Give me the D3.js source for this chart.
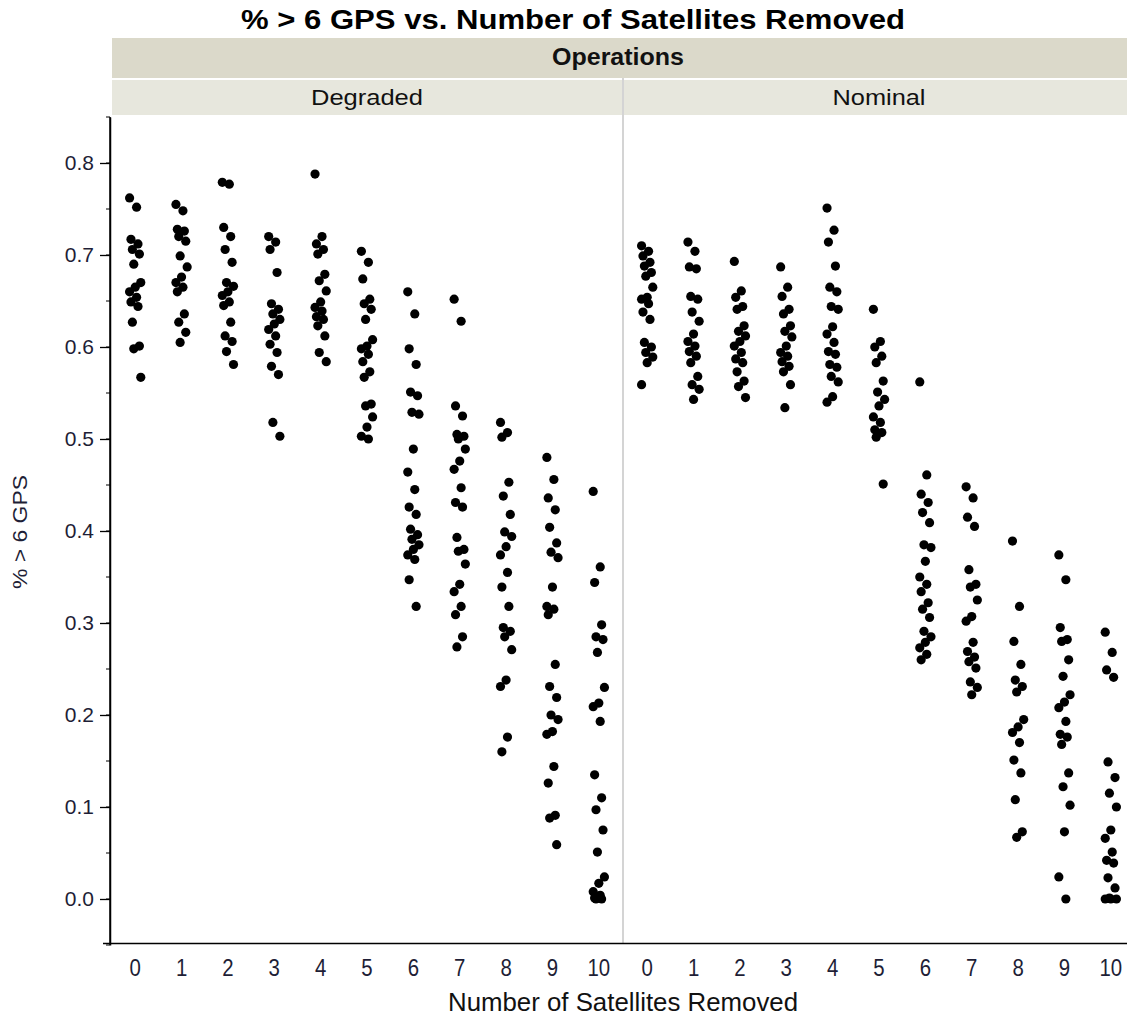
<!DOCTYPE html>
<html>
<head>
<meta charset="utf-8">
<script src="https://cdn.jsdelivr.net/npm/d3@7"></script>
<style>
  body { margin: 0; background: #fff; }
  text { font-family: "Liberation Sans", Arial, sans-serif; }
</style>
</head>
<body>
<div id="chart"></div>
<script>
// categories and ticks
const panels = ["Degraded", "Nominal"];
const satellitesRemoved = [0, 1, 2, 3, 4, 5, 6, 7, 8, 9, 10];
const yTicks = [0, 0.1, 0.2, 0.3, 0.4, 0.5, 0.6, 0.7, 0.8];

// % > 6 GPS per number of satellites removed, Degraded operations
const degraded = [
  [0.762, 0.752, 0.717, 0.712, 0.706, 0.701, 0.690, 0.670, 0.665, 0.660, 0.654, 0.649, 0.644, 0.627, 0.601, 0.598, 0.567],
  [0.755, 0.748, 0.728, 0.726, 0.720, 0.715, 0.699, 0.687, 0.676, 0.670, 0.665, 0.660, 0.636, 0.627, 0.616, 0.605],
  [0.779, 0.777, 0.730, 0.720, 0.706, 0.692, 0.670, 0.666, 0.660, 0.656, 0.649, 0.645, 0.627, 0.612, 0.606, 0.595, 0.581],
  [0.720, 0.714, 0.706, 0.681, 0.647, 0.641, 0.636, 0.630, 0.625, 0.619, 0.612, 0.603, 0.594, 0.579, 0.570, 0.518, 0.503],
  [0.788, 0.720, 0.712, 0.706, 0.701, 0.679, 0.672, 0.661, 0.649, 0.643, 0.639, 0.633, 0.630, 0.623, 0.612, 0.594, 0.584],
  [0.704, 0.692, 0.674, 0.652, 0.647, 0.641, 0.630, 0.608, 0.601, 0.598, 0.592, 0.584, 0.573, 0.567, 0.538, 0.536, 0.524, 0.513, 0.503, 0.500],
  [0.660, 0.636, 0.598, 0.581, 0.551, 0.547, 0.529, 0.527, 0.489, 0.464, 0.445, 0.426, 0.418, 0.402, 0.396, 0.391, 0.385, 0.380, 0.374, 0.369, 0.347, 0.318],
  [0.652, 0.628, 0.536, 0.525, 0.505, 0.503, 0.500, 0.489, 0.476, 0.467, 0.447, 0.431, 0.426, 0.393, 0.380, 0.378, 0.364, 0.342, 0.334, 0.318, 0.309, 0.285, 0.274],
  [0.518, 0.507, 0.502, 0.453, 0.438, 0.418, 0.399, 0.394, 0.383, 0.374, 0.355, 0.339, 0.318, 0.295, 0.291, 0.285, 0.271, 0.238, 0.231, 0.176, 0.160],
  [0.480, 0.456, 0.436, 0.423, 0.404, 0.387, 0.377, 0.371, 0.339, 0.318, 0.315, 0.309, 0.255, 0.231, 0.219, 0.200, 0.195, 0.182, 0.179, 0.144, 0.126, 0.091, 0.088, 0.059],
  [0.443, 0.361, 0.344, 0.298, 0.285, 0.282, 0.268, 0.230, 0.213, 0.209, 0.193, 0.135, 0.110, 0.097, 0.075, 0.051, 0.024, 0.017, 0.008, 0.004, 0.001, 0.000, 0.000]
];

// % > 6 GPS per number of satellites removed, Nominal operations
const nominal = [
  [0.710, 0.704, 0.699, 0.692, 0.688, 0.681, 0.677, 0.665, 0.654, 0.652, 0.647, 0.638, 0.630, 0.605, 0.600, 0.594, 0.589, 0.583, 0.559],
  [0.714, 0.704, 0.687, 0.685, 0.655, 0.652, 0.638, 0.628, 0.614, 0.606, 0.601, 0.595, 0.590, 0.583, 0.568, 0.559, 0.554, 0.543],
  [0.693, 0.661, 0.654, 0.644, 0.641, 0.623, 0.617, 0.612, 0.606, 0.601, 0.594, 0.587, 0.583, 0.573, 0.563, 0.557, 0.545],
  [0.687, 0.665, 0.655, 0.641, 0.636, 0.623, 0.617, 0.611, 0.601, 0.594, 0.590, 0.584, 0.579, 0.573, 0.559, 0.534],
  [0.751, 0.727, 0.714, 0.688, 0.665, 0.660, 0.644, 0.641, 0.622, 0.614, 0.605, 0.595, 0.592, 0.581, 0.578, 0.568, 0.562, 0.546, 0.540],
  [0.641, 0.606, 0.600, 0.590, 0.583, 0.563, 0.551, 0.543, 0.536, 0.524, 0.518, 0.510, 0.507, 0.502, 0.451],
  [0.562, 0.461, 0.440, 0.431, 0.420, 0.409, 0.385, 0.382, 0.367, 0.350, 0.342, 0.334, 0.322, 0.315, 0.306, 0.291, 0.285, 0.279, 0.273, 0.266, 0.260],
  [0.448, 0.436, 0.415, 0.405, 0.358, 0.342, 0.339, 0.325, 0.307, 0.302, 0.279, 0.269, 0.263, 0.258, 0.251, 0.236, 0.230, 0.222],
  [0.389, 0.318, 0.280, 0.255, 0.238, 0.231, 0.225, 0.195, 0.187, 0.181, 0.170, 0.151, 0.137, 0.108, 0.073, 0.067],
  [0.374, 0.347, 0.295, 0.282, 0.280, 0.260, 0.242, 0.222, 0.214, 0.208, 0.193, 0.179, 0.176, 0.168, 0.137, 0.122, 0.102, 0.073, 0.024, 0.000],
  [0.290, 0.268, 0.249, 0.241, 0.149, 0.132, 0.115, 0.100, 0.075, 0.066, 0.051, 0.042, 0.039, 0.023, 0.012, 0.001, 0.000, 0.000, 0.000]
];

const width = 1127;
const height = 1018;
const plotTop = 117;
const plotBottom = 945;
const plotLeft = 112;
const panelWidth = 510;
const panelGap = 2;
const labelColor = "#1e1e36";

const svg = d3.select("#chart")
  .append("svg")
  .attr("width", width)
  .attr("height", height);

const y = d3.scaleLinear()
  .domain([-0.05, 0.85])
  .range([plotBottom, plotTop]);

// title
svg.append("text")
  .attr("x", 573)
  .attr("y", 29)
  .attr("text-anchor", "middle")
  .attr("font-size", 27)
  .attr("font-weight", "bold")
  .attr("fill", "#000")
  .attr("textLength", 664)
  .attr("lengthAdjust", "spacingAndGlyphs")
  .text("% > 6 GPS vs. Number of Satellites Removed");

// "Operations" header band
svg.append("rect")
  .attr("x", plotLeft)
  .attr("y", 38)
  .attr("width", width - plotLeft)
  .attr("height", 40)
  .attr("fill", "#dbd9ca");

svg.append("text")
  .attr("x", 618)
  .attr("y", 65)
  .attr("text-anchor", "middle")
  .attr("font-size", 23)
  .attr("font-weight", "bold")
  .attr("fill", "#111")
  .attr("textLength", 132)
  .attr("lengthAdjust", "spacingAndGlyphs")
  .text("Operations");

const headerWidths = { Degraded: 112, Nominal: 93 };

// one panel per operations mode
panels.forEach((name, p) => {
  const left = plotLeft + p * (panelWidth + panelGap);

  const x = d3.scaleBand()
    .domain(satellitesRemoved)
    .range([left, left + panelWidth]);

  const g = svg.append("g").attr("class", "panel");

  g.append("rect")
    .attr("x", left)
    .attr("y", 80)
    .attr("width", panelWidth)
    .attr("height", 35)
    .attr("fill", "#e7e7dd");

  g.append("text")
    .attr("x", left + panelWidth / 2)
    .attr("y", 105)
    .attr("text-anchor", "middle")
    .attr("font-size", 22)
    .attr("fill", "#111")
    .attr("textLength", headerWidths[name])
    .attr("lengthAdjust", "spacingAndGlyphs")
    .text(name);

  const series = p === 0 ? degraded : nominal;
  const points = [];
  series.forEach((vals, c) => {
    vals.forEach((v, i) => {
      points.push({ cat: satellitesRemoved[c], value: v, i: i });
    });
  });

  // small fixed horizontal spread so stacked points stay visible
  g.append("g")
    .selectAll("circle")
    .data(points)
    .join("circle")
    .attr("cx", d => x(d.cat) + x.bandwidth() / 2 + ((d.i * 5) % 9 - 4) * 1.4)
    .attr("cy", d => y(d.value))
    .attr("r", 4.6)
    .attr("fill", "#000");

  // x tick labels
  g.append("g")
    .selectAll("text")
    .data(satellitesRemoved)
    .join("text")
    .attr("transform", d => `translate(${x(d) + x.bandwidth() / 2},976) scale(0.85,1)`)
    .attr("text-anchor", "middle")
    .attr("font-size", 24)
    .attr("fill", labelColor)
    .text(d => d);
});

// panel divider
svg.append("line")
  .attr("x1", plotLeft + panelWidth + 1)
  .attr("x2", plotLeft + panelWidth + 1)
  .attr("y1", 78)
  .attr("y2", plotBottom - 2)
  .attr("stroke", "#d4d4d4")
  .attr("stroke-width", 2);

// y axis with minor ticks
const minorTicks = y.ticks(18);
svg.append("g")
  .selectAll("line")
  .data(minorTicks)
  .join("line")
  .attr("x1", 106)
  .attr("x2", 110)
  .attr("y1", d => y(d))
  .attr("y2", d => y(d))
  .attr("stroke", "#000");

const yAxis = svg.append("g")
  .attr("transform", `translate(110,0)`)
  .call(d3.axisLeft(y).tickValues(yTicks).tickFormat(d3.format(".1f")).tickSize(10).tickSizeOuter(0));

yAxis.select(".domain").attr("stroke", "#000").attr("stroke-width", 1.5);
yAxis.selectAll(".tick line").attr("stroke", "#000").attr("stroke-width", 1.3);
yAxis.selectAll(".tick text")
  .attr("font-size", 21)
  .attr("font-family", "\"Liberation Sans\", Arial, sans-serif")
  .attr("fill", labelColor)
  .attr("x", -16);

svg.append("line")
  .attr("x1", 110)
  .attr("x2", 110)
  .attr("y1", plotTop)
  .attr("y2", plotBottom)
  .attr("stroke", "#000")
  .attr("stroke-width", 1.5);

// x axis line
svg.append("line")
  .attr("x1", 103)
  .attr("x2", width)
  .attr("y1", 943.5)
  .attr("y2", 943.5)
  .attr("stroke", "#000")
  .attr("stroke-width", 1.5);

// axis titles
svg.append("text")
  .attr("transform", "translate(27,532) rotate(-90)")
  .attr("text-anchor", "middle")
  .attr("font-size", 20)
  .attr("fill", labelColor)
  .attr("textLength", 114)
  .attr("lengthAdjust", "spacingAndGlyphs")
  .text("% > 6 GPS");

svg.append("text")
  .attr("x", 623)
  .attr("y", 1011)
  .attr("text-anchor", "middle")
  .attr("font-size", 25)
  .attr("fill", "#111")
  .attr("textLength", 350)
  .attr("lengthAdjust", "spacingAndGlyphs")
  .text("Number of Satellites Removed");
</script>
</body>
</html>
